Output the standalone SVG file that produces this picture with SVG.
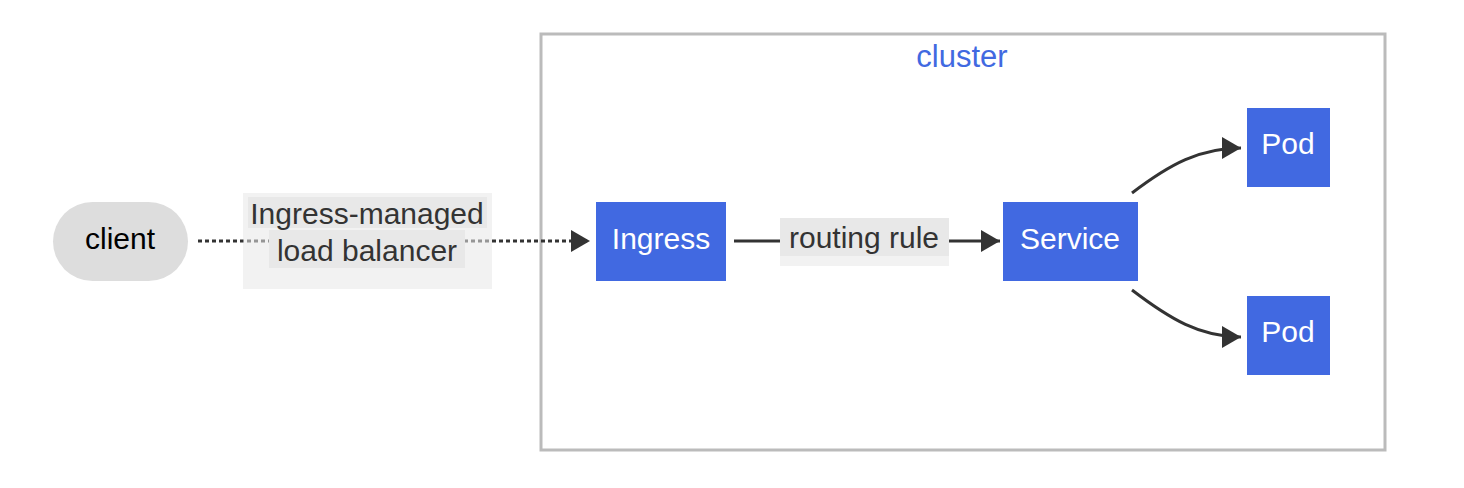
<svg xmlns="http://www.w3.org/2000/svg" width="1464" height="488" viewBox="0 0 1464 488">
<style>
text{font-family:"Liberation Sans","DejaVu Sans",sans-serif;font-size:30px;text-anchor:middle}
.node{fill:#4169e1}
.nt{fill:#ffffff}
.lt{fill:#333333}
.edge{fill:none;stroke:#333333;stroke-width:3}
.dot{stroke-dasharray:4 3;stroke-width:3.2}
</style>
<defs>
<marker id="arr" viewBox="0 0 10 10" refX="10" refY="5" markerUnits="userSpaceOnUse" markerWidth="19" markerHeight="22" orient="auto" preserveAspectRatio="none">
<path d="M0,0 L10,5 L0,10 z" fill="#333333"/>
</marker>
</defs>
<rect width="1464" height="488" fill="#ffffff"/>
<g id="cluster">
<rect x="541" y="34" width="844" height="416" fill="#ffffff" stroke="#bbbbbb" stroke-width="3"/>
<text x="962" y="67" style="fill:#4169e1;font-size:31px">cluster</text>
</g>
<g id="connectors">
<path class="edge dot" d="M198,241 L590,241" marker-end="url(#arr)"/>
<path class="edge" d="M734,241 L1000,241" marker-end="url(#arr)"/>
<path class="edge" d="M1132,193 C1170,164 1200,148 1241,148" marker-end="url(#arr)"/>
<path class="edge" d="M1132,290 C1170,319 1200,337 1241,337" marker-end="url(#arr)"/>
</g>
<g id="label-lb">
<rect x="243" y="193" width="249" height="96" fill="#e8e8e8" fill-opacity="0.55"/>
<rect x="248" y="197" width="239" height="31" fill="#e8e8e8"/>
<rect x="269" y="230" width="196" height="38" fill="#e8e8e8"/>
<text class="lt" x="367" y="224">Ingress-managed</text>
<text class="lt" x="367" y="261">load balancer</text>
</g>
<g id="label-routing">
<rect x="780" y="218" width="169" height="48" fill="#f2f2f2"/>
<rect x="780" y="218" width="169" height="38" fill="#e8e8e8"/>
<text class="lt" x="864" y="248">routing rule</text>
</g>
<g id="client">
<rect x="53" y="202" width="135" height="79" rx="39.5" ry="39.5" fill="#dddddd"/>
<text x="120" y="249" fill="#000000">client</text>
</g>
<g id="ingress">
<rect class="node" x="596" y="202" width="130" height="79"/>
<text class="nt" x="661" y="249">Ingress</text>
</g>
<g id="service">
<rect class="node" x="1003" y="202" width="135" height="79"/>
<text class="nt" x="1070" y="249">Service</text>
</g>
<g id="pod1">
<rect class="node" x="1247" y="108" width="83" height="79"/>
<text class="nt" x="1288" y="154">Pod</text>
</g>
<g id="pod2">
<rect class="node" x="1247" y="296" width="83" height="79"/>
<text class="nt" x="1288" y="342">Pod</text>
</g>
</svg>
